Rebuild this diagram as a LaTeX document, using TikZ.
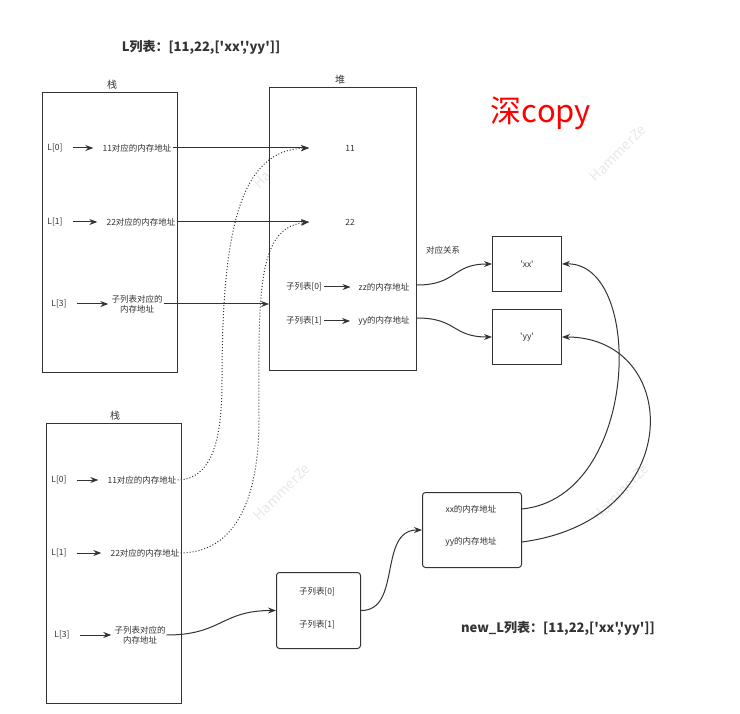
\documentclass[tikz,border=0pt]{standalone}
\usepackage{fontspec}
\setmainfont{Noto Sans CJK SC}[Ligatures=TeXOff]
\usetikzlibrary{arrows.meta}
\definecolor{ln}{HTML}{333333}
\definecolor{wm}{HTML}{E8E8E8}
\begin{document}
\begin{tikzpicture}[x=1pt,y=-1pt,
  box/.style={draw=ln, fill=white, line width=1pt, anchor=north west, inner sep=0pt},
  rbox/.style={box, rounded corners=3pt},
  txt/.style={font=\fontsize{8.5}{10.5}\selectfont, text=ln, inner sep=1pt, align=center},
  hd/.style={font=\fontsize{10}{12}\selectfont, text=ln, inner sep=1pt},
  ttl/.style={font=\fontsize{13}{15}\selectfont\bfseries, text=ln, inner sep=0pt},
  wmk/.style={font=\fontsize{14}{16}\selectfont, text=wm, rotate=45, inner sep=0pt},
  arr/.style={draw=ln, line width=1pt, -{Stealth[length=8pt,width=6pt]}},
  sarr/.style={arr, shorten <=9pt, shorten >=8pt},
  dot/.style={arr, dotted, line width=1pt}
]
\useasboundingbox (0,0) rectangle (740,714);
% watermarks
\node[wmk] (w1) at (282,160) {HammerZe};
\node[wmk] (w2) at (618,153) {HammerZe};
\node[wmk] (w3) at (282,492) {HammerZe};
\node[wmk] (w4) at (621,492) {HammerZe};

% titles
\node[ttl] (t1) at (201,47) {L列表：[11,22,['xx','yy']]};
\node[ttl] (t2) at (558,628) {new\_L列表：[11,22,['xx','yy']]};
\node[font=\fontsize{31}{34}\selectfont, text=red, inner sep=0pt] (t3) at (541,113) {深copy};

% top stack
\node[box, minimum width=135pt, minimum height=280pt] (s1) at (42,92) {};
\node[hd] (s1h) at (112,85) {栈};
\node[txt] (a0) at (55,148) {L[0]};
\node[txt] (a0m) at (137,148) {11对应的内存地址};
\node[txt] (a1) at (55,222) {L[1]};
\node[txt] (a1m) at (141,222) {22对应的内存地址};
\node[txt] (a3) at (59,304) {L[3]};
\node[txt] (a3m) at (137,304) {子列表对应的\\内存地址};
\draw[sarr] (a0) -- (a0m);
\draw[sarr] (a1) -- (a1m);
\draw[arr, shorten <=9pt, shorten >=2pt] (a3) -- (a3m);

% heap
\node[box, minimum width=147pt, minimum height=283pt] (hp) at (269,87) {};
\node[hd] (hph) at (340,80) {堆};
\node[txt] (h11) at (350,148) {11};
\node[txt] (h22) at (350,222) {22};
\coordinate (p11) at (309,148);
\coordinate (p22) at (309,222);
\node[txt] (h0l) at (304,287) {子列表[0]};
\node[txt] (h0r) at (384,287) {zz的内存地址};
\node[txt] (h1l) at (304,321) {子列表[1]};
\node[txt] (h1r) at (384,321) {yy的内存地址};
\draw[arr, shorten <=1pt, shorten >=7pt] (h0l) -- (h0r);
\draw[arr, shorten <=1pt, shorten >=7pt] (h1l) -- (h1r);

\draw[arr] (a0m.east) -- (p11);
\draw[arr] (a1m.east) -- (p22);
\draw[arr] (a3m.east) -- (a3m.east -| hp.west);

% xx / yy boxes
\node[box, minimum width=69pt, minimum height=55pt] (bxx) at (492,236) {};
\node[txt] (bxxt) at (bxx.center) {'xx'};
\node[box, minimum width=69pt, minimum height=55pt] (byy) at (492,309) {};
\node[txt] (byyt) at (byy.center) {'yy'};
\node[txt] (rel) at (443,250) {对应关系};
\draw[arr] (h0r.east -| hp.east) ++(0,-2) .. controls +(40,0) and +(-40,0) .. (bxx.west);
\draw[arr] (h1r.east -| hp.east) ++(0,-3) .. controls +(40,0) and +(-40,0) .. (byy.west);

% bottom stack
\node[box, minimum width=135pt, minimum height=280pt] (s2) at (46,423) {};
\node[hd] (s2h) at (115,416) {栈};
\node[txt] (b0) at (59,480) {L[0]};
\node[txt] (b0m) at (142,480) {11对应的内存地址};
\node[txt] (b1) at (59,553) {L[1]};
\node[txt] (b1m) at (145,553) {22对应的内存地址};
\node[txt] (b3) at (62,635) {L[3]};
\node[txt] (b3m) at (140,635) {子列表对应的\\内存地址};
\draw[sarr] (b0) -- (b0m);
\draw[sarr] (b1) -- (b1m);
\draw[arr, shorten <=9pt, shorten >=2pt] (b3) -- (b3m);

% dotted references to the shared 11 / 22
\draw[dot] (b0m.east) .. controls (216,479) and (222,430) .. (222,380)
  .. controls (222,230) and (240,150) .. (p11);
\draw[dot] (b1m.east) .. controls (245,552) and (259,480) .. (259,420)
  .. controls (259,300) and (255,228) .. (p22);

% new sub-list box
\node[rbox, minimum width=84pt, minimum height=76pt] (sub) at (276,572) {};
\node[txt] (sub0) at (317,592) {子列表[0]};
\node[txt] (sub1) at (317,625) {子列表[1]};
\draw[arr] (b3m.east) .. controls +(55,0) and +(-55,0) .. (sub.west);

% address box
\node[rbox, minimum width=99pt, minimum height=75pt] (xy) at (422,492) {};
\node[txt] (xy0) at (471,509) {xx的内存地址};
\node[txt] (xy1) at (471,542) {yy的内存地址};
\draw[arr] (sub.east) .. controls (402,611) and (378,530) .. (xy.west);

\draw[arr] (xy0.east -| xy.east) .. controls (640,497) and (645,262) .. (bxx.east);
\draw[arr] (xy1.east -| xy.east) .. controls (688,520) and (682,337) .. (byy.east);
\end{tikzpicture}
\end{document}
